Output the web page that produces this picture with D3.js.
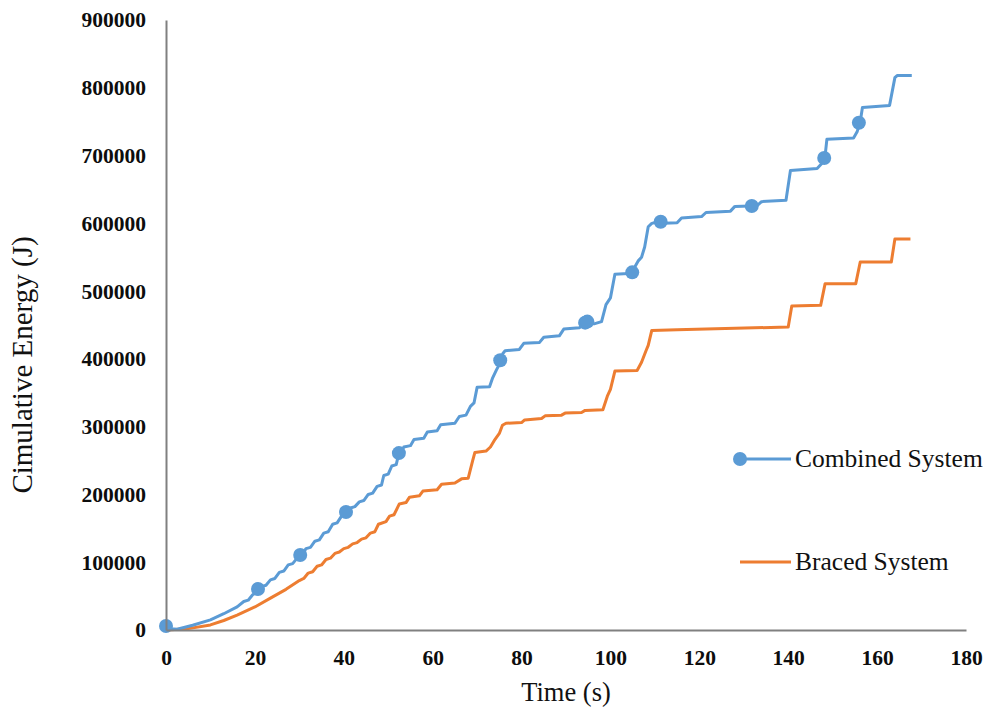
<!DOCTYPE html>
<html>
<head>
<meta charset="utf-8">
<script src="https://cdn.jsdelivr.net/npm/d3@7"></script>
<style>
  html, body { margin: 0; padding: 0; background: #fff; }
  svg { display: block; }
</style>
</head>
<body>
<svg id="chart" width="997" height="711"></svg>
<script>
// ---- Data ----
const xTicks = [0, 20, 40, 60, 80, 100, 120, 140, 160, 180];
const yTicks = [0, 100000, 200000, 300000, 400000, 500000, 600000, 700000, 800000, 900000];
const seriesNames = ["Combined System", "Braced System"];

// Combined System: [time (s), cumulative energy (J)]
const combined = [
  [0, 5000], [1, 2000], [2.5, 1000], [6, 7000], [10, 15000], [13, 24000], [16, 34000],
  [17.5, 42000], [18.5, 44000], [19.5, 52000], [20.5, 56000], [21.5, 64000], [22.5, 66000],
  [23.5, 74000], [24.5, 76000], [25.5, 85000], [26.5, 87000], [27.5, 96000], [28.5, 98000],
  [29.5, 106000], [30.5, 110000], [31.5, 120000], [32.5, 122000], [33.5, 131000], [34.5, 133000],
  [35.5, 143000], [36.5, 145000], [37.5, 156000], [38.5, 158000], [39.5, 168000], [40.5, 172000],
  [41.5, 180000], [42.5, 182000], [43.5, 189000], [44.5, 191000], [45.5, 200000], [46.5, 202000],
  [47.5, 212000], [48.5, 214000], [49, 228000], [50, 230000], [50.8, 242000], [51.8, 244000],
  [52.3, 258000], [53, 262000], [53.5, 270000], [55, 272000], [55.8, 281000], [58, 283000],
  [58.8, 292000], [61, 294000], [61.8, 303000], [65, 305000], [66, 315000], [67.5, 317000],
  [68.5, 330000], [69.3, 335000], [70, 358000], [72.8, 359000], [73.5, 372000], [74.3, 383000],
  [75, 392000], [75.8, 408000], [76.3, 412000], [79.5, 414000], [80.5, 423000], [84, 424000],
  [85, 432000], [88.5, 434000], [89.5, 444000], [93, 446000], [94.5, 452000], [96.5, 452000],
  [98, 455000], [99, 480000], [100, 490000], [101, 525000], [104, 526000], [105, 530000],
  [106.3, 545000], [107, 550000], [107.7, 565000], [108.5, 595000], [109.3, 600000],
  [110.5, 602000], [112, 600000], [115, 601000], [116, 608000], [120.5, 610000], [121.5, 616000],
  [127, 618000], [128, 625000], [133, 626000], [134, 632000], [139.5, 634000], [140.5, 678000],
  [146.5, 681000], [147.5, 688000], [148.3, 700000], [148.7, 724000], [154.7, 726000],
  [155.5, 735000], [156.2, 750000], [156.7, 771000], [162.8, 774000], [164, 815000],
  [164.5, 818000], [167.8, 818000]
];

// Marker positions on the Combined System curve
const combinedMarkers = [
  [0, 6000], [20.7, 60500], [30.2, 110600], [40.5, 174000], [52.4, 261000], [75.2, 398000],
  [94.3, 453500], [94.8, 455000], [104.9, 527700], [111.3, 602400], [131.8, 625600],
  [148.1, 696500], [155.9, 748500]
];

// Braced System: [time (s), cumulative energy (J)]
const braced = [
  [0, 0], [5, 2000], [10, 7500], [13, 14000], [16, 22000], [20, 34000], [23.5, 47000],
  [27, 60000], [30, 73000], [31, 76000], [32, 84000], [33, 86000], [34, 94000], [35, 96000],
  [36, 104000], [37, 106000], [38, 113000], [39, 115000], [40, 120000], [41, 122000],
  [42, 127000], [43, 129000], [44, 134000], [45, 136000], [46, 143000], [47, 145000],
  [47.8, 156000], [49.5, 160000], [50.3, 168000], [51.3, 170000], [52.5, 186000], [54, 188000],
  [54.8, 196000], [57, 198000], [57.8, 205000], [61, 207000], [62, 215000], [65, 217000],
  [66.5, 223000], [68, 224000], [69, 250000], [69.5, 262000], [72, 264000], [73, 270000],
  [74, 281000], [75, 290000], [75.7, 302000], [76.5, 305000], [80, 306000], [80.7, 310000],
  [84.5, 312000], [85.3, 316000], [89, 317000], [89.8, 320000], [93.5, 321000], [94.3, 324000],
  [98.3, 325000], [99.3, 345000], [100, 355000], [101, 382000], [106, 383000], [107, 395000],
  [108, 412000], [108.5, 420000], [109.3, 442000], [115, 443000], [140, 447000],
  [140.8, 478000], [147.3, 479000], [148.3, 511000], [155.2, 511000], [156.2, 543000],
  [163.2, 543000], [164, 577000], [167.5, 577000]
];

// ---- Layout ----
const svg = d3.select("#chart");
const mLeft = 166, mRight = 966, mTop = 20, mBottom = 630;
const x = d3.scaleLinear().domain([0, 180]).range([mLeft, mRight]);
const y = d3.scaleLinear().domain([0, 900000]).range([mBottom, mTop]);

const blue = "#5B9BD5", orange = "#ED7D31", axisGrey = "#808080";
const serif = "'Liberation Serif', 'Times New Roman', serif";

const line = d3.line().x(d => x(d[0])).y(d => y(d[1]));

svg.append("path").datum(braced)
  .attr("d", line).attr("fill", "none").attr("stroke", orange)
  .attr("stroke-width", 3).attr("stroke-linejoin", "round");

svg.append("path").datum(combined)
  .attr("d", line).attr("fill", "none").attr("stroke", blue)
  .attr("stroke-width", 3).attr("stroke-linejoin", "round");

svg.append("g").selectAll("circle").data(combinedMarkers).join("circle")
  .attr("cx", d => x(d[0])).attr("cy", d => y(d[1])).attr("r", 7)
  .attr("fill", blue);

// ---- Axes ----
const yAxis = svg.append("g").attr("transform", `translate(${mLeft},0)`)
  .call(d3.axisLeft(y).tickValues(yTicks).tickFormat(d3.format("d"))
    .tickSize(0).tickSizeOuter(0).tickPadding(20));
const xAxis = svg.append("g").attr("transform", `translate(0,${mBottom})`)
  .call(d3.axisBottom(x).tickValues(xTicks).tickFormat(d3.format("d"))
    .tickSize(0).tickSizeOuter(0).tickPadding(20));

[yAxis, xAxis].forEach(g => {
  g.select(".domain").attr("stroke", axisGrey).attr("stroke-width", 2);
  g.selectAll("text").attr("font-family", serif).attr("font-weight", "bold")
    .attr("font-size", 21.5).attr("fill", "#0d0d0d");
});

// ---- Titles ----
svg.append("text").attr("x", 566).attr("y", 701)
  .attr("text-anchor", "middle").attr("font-family", serif)
  .attr("font-size", 26.5).attr("fill", "#111").text("Time (s)");

svg.append("text")
  .attr("transform", "translate(32,365) rotate(-90)")
  .attr("text-anchor", "middle").attr("font-family", serif)
  .attr("font-size", 29).attr("fill", "#111").text("Cimulative Energy (J)");

// ---- Legend ----
const legendRows = [
  { name: seriesNames[0], color: blue, marker: true, cy: 459 },
  { name: seriesNames[1], color: orange, marker: false, cy: 562 }
];
const lg = svg.append("g");
legendRows.forEach(r => {
  lg.append("line").attr("x1", 740).attr("x2", 791).attr("y1", r.cy).attr("y2", r.cy)
    .attr("stroke", r.color).attr("stroke-width", 3);
  if (r.marker) lg.append("circle").attr("cx", 740).attr("cy", r.cy).attr("r", 7).attr("fill", r.color);
  lg.append("text").attr("x", 795).attr("y", r.cy).attr("dy", "0.33em")
    .attr("font-family", serif).attr("font-size", 25.5).attr("fill", "#111").text(r.name);
});
</script>
</body>
</html>
